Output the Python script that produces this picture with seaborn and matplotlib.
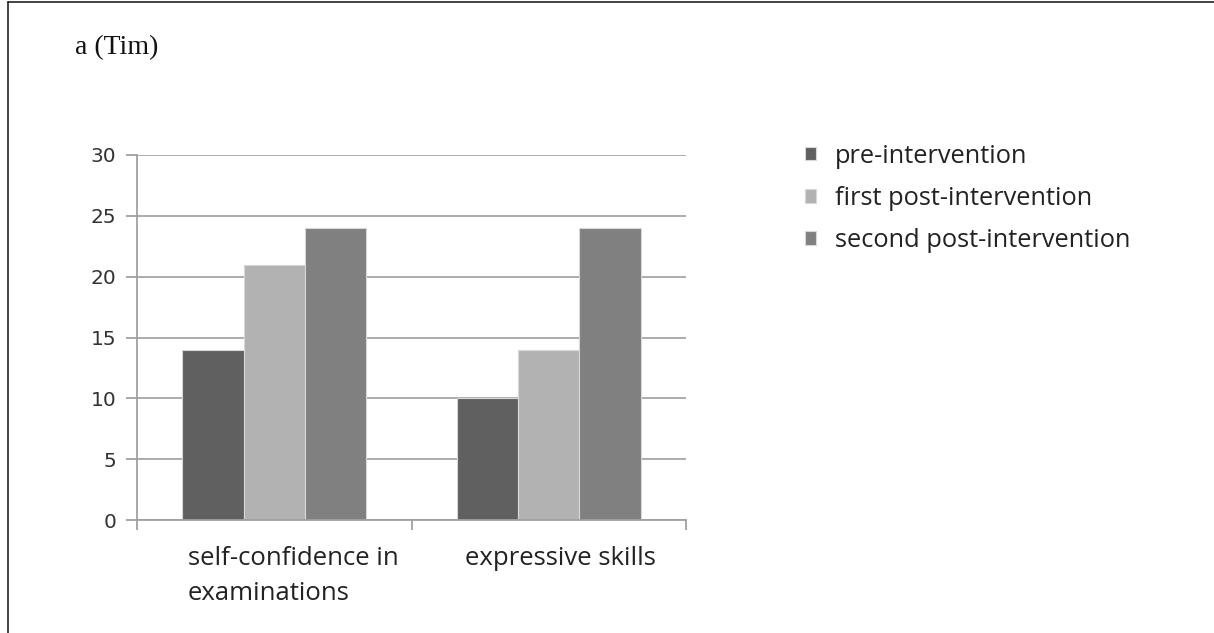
import matplotlib
matplotlib.use("Agg")
import matplotlib.pyplot as plt
import matplotlib.transforms as mtransforms
from matplotlib.lines import Line2D
import seaborn as sns
import pandas as pd

categories = ["self-confidence in\nexaminations", "expressive skills"]
series = ["pre-intervention", "first post-intervention", "second post-intervention"]
pre_values = [14, 10]
first_post_values = [21, 14]
second_post_values = [24, 24]
y_ticks = [0, 5, 10, 15, 20, 25, 30]
title = "a (Tim)"
colors = ["#606060", "#b2b2b2", "#808080"]

rows = []
for s, vals in zip(series, [pre_values, first_post_values, second_post_values]):
    for c, v in zip(categories, vals):
        rows.append({"category": c, "series": s, "value": v})
df = pd.DataFrame(rows)

sns.set_theme(style="white")
plt.rcParams["font.family"] = ["DejaVu Sans"]

fig = plt.figure(figsize=(12.14, 6.33), dpi=100)
ax = fig.add_axes([137/1214, 1-520/633, (686-137)/1214, (520-155)/633])

sns.barplot(data=df, x="category", y="value", hue="series", palette=colors,
            width=0.67, ax=ax, edgecolor="#d8d8d8", linewidth=0.8, saturation=1)

ax.set_ylim(0, 30)
ax.set_xlim(-0.5, 1.5)
ax.set_yticks(y_ticks)
ax.set_yticklabels([str(t) for t in y_ticks], fontsize=14.5, color="#333333", family="DejaVu Sans")
ax.yaxis.grid(True, color="#a6a6a6", linewidth=1.3)
ax.set_axisbelow(True)
ax.set_xlabel("")
ax.set_ylabel("")
for sp in ["top", "right"]:
    ax.spines[sp].set_visible(False)
for sp in ["left", "bottom"]:
    ax.spines[sp].set_color("#a0a0a0")
    ax.spines[sp].set_linewidth(1.3)

ax.tick_params(axis="y", which="major", left=True, length=8, width=1.3, color="#a0a0a0", pad=7)
ax.set_xticks([0, 1])
ax.set_xticks([-0.5, 0.5, 1.5], minor=True)
ax.tick_params(axis="x", which="major", bottom=False, pad=13)
ax.tick_params(axis="x", which="minor", bottom=True, length=7, width=1.3, color="#a0a0a0")
labels = ax.set_xticklabels(categories, fontsize=18.5, color="#222222",
                            family="Open Sans", linespacing=1.5, va="top")
offsets = [19, 12]
for lab, off in zip(labels, offsets):
    lab.set_multialignment("left")
    lab.set_transform(lab.get_transform() + mtransforms.ScaledTranslation(off/100, 0, fig.dpi_scale_trans))

leg = ax.legend(loc="upper left", bbox_to_anchor=(792/1214, 1-131/633), bbox_transform=fig.transFigure,
                frameon=False, prop={"family": "Open Sans", "size": 18.3},
                handlelength=0.45, handleheight=0.45, handletextpad=0.75, labelspacing=0.68,
                borderpad=0)
for t in leg.get_texts():
    t.set_color("#222222")

fig.text(75/1214, 1-48/633, title, fontsize=20, family="Liberation Serif", color="#111111", va="center", ha="left")

fig.add_artist(Line2D([8/1214, 1], [1-2/633, 1-2/633], transform=fig.transFigure, color="#222222", linewidth=1.2))
fig.add_artist(Line2D([8/1214, 8/1214], [0, 1-2/633], transform=fig.transFigure, color="#222222", linewidth=1.2))

fig.savefig("out.png", dpi=100, facecolor="white")
